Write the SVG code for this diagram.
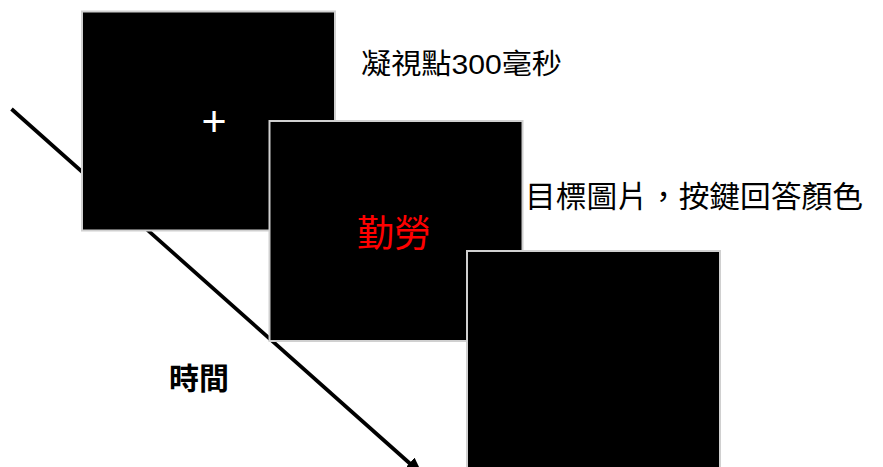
<svg xmlns="http://www.w3.org/2000/svg" width="883" height="467" viewBox="0 0 883 467">
  <style>
    .screen { fill: #000000; stroke: #d0d0d0; stroke-width: 2; }
    .label { font-family: "Liberation Sans", "Noto Sans CJK TC", sans-serif; fill: #000000; }
    .cjk { font-family: "Noto Sans CJK TC", "Liberation Sans", sans-serif; }
    .arrow { stroke: #000000; stroke-width: 3.7; fill: none; }
  </style>
  <defs>
    <marker id="head" markerUnits="userSpaceOnUse" viewBox="0 0 18 15" refX="2" refY="7.5" markerWidth="18" markerHeight="15" orient="auto">
      <path d="M0,0 L18,7.5 L0,15 z" fill="#000000"/>
    </marker>
  </defs>
  <rect width="883" height="467" fill="#ffffff"/>

  <g id="connectors">
    <line class="arrow" x1="11.5" y1="109" x2="411" y2="464.5" marker-end="url(#head)"/>
  </g>

  <g id="fixation">
    <rect class="screen" x="82" y="11.5" width="253" height="219"/>
    <text x="214" y="136" font-family="Liberation Sans, sans-serif" font-size="43" fill="#ffffff" text-anchor="middle">+</text>
  </g>

  <g id="target">
    <rect class="screen" x="269.5" y="121" width="253" height="220"/>
    <text class="cjk" x="394" y="247" font-size="37" fill="#ff0000" text-anchor="middle">勤勞</text>
  </g>

  <g id="blank">
    <rect class="screen" x="467" y="251" width="253" height="240"/>
  </g>

  <g id="labels">
    <text class="label" x="361" y="74" font-size="28" textLength="201" lengthAdjust="spacingAndGlyphs">凝視點300毫秒</text>
    <text class="label" x="525" y="207" font-size="30" textLength="338" lengthAdjust="spacingAndGlyphs">目標圖片，按鍵回答顏色</text>
    <text class="label" x="199" y="389" font-size="30" font-weight="bold" text-anchor="middle">時間</text>
  </g>
</svg>
